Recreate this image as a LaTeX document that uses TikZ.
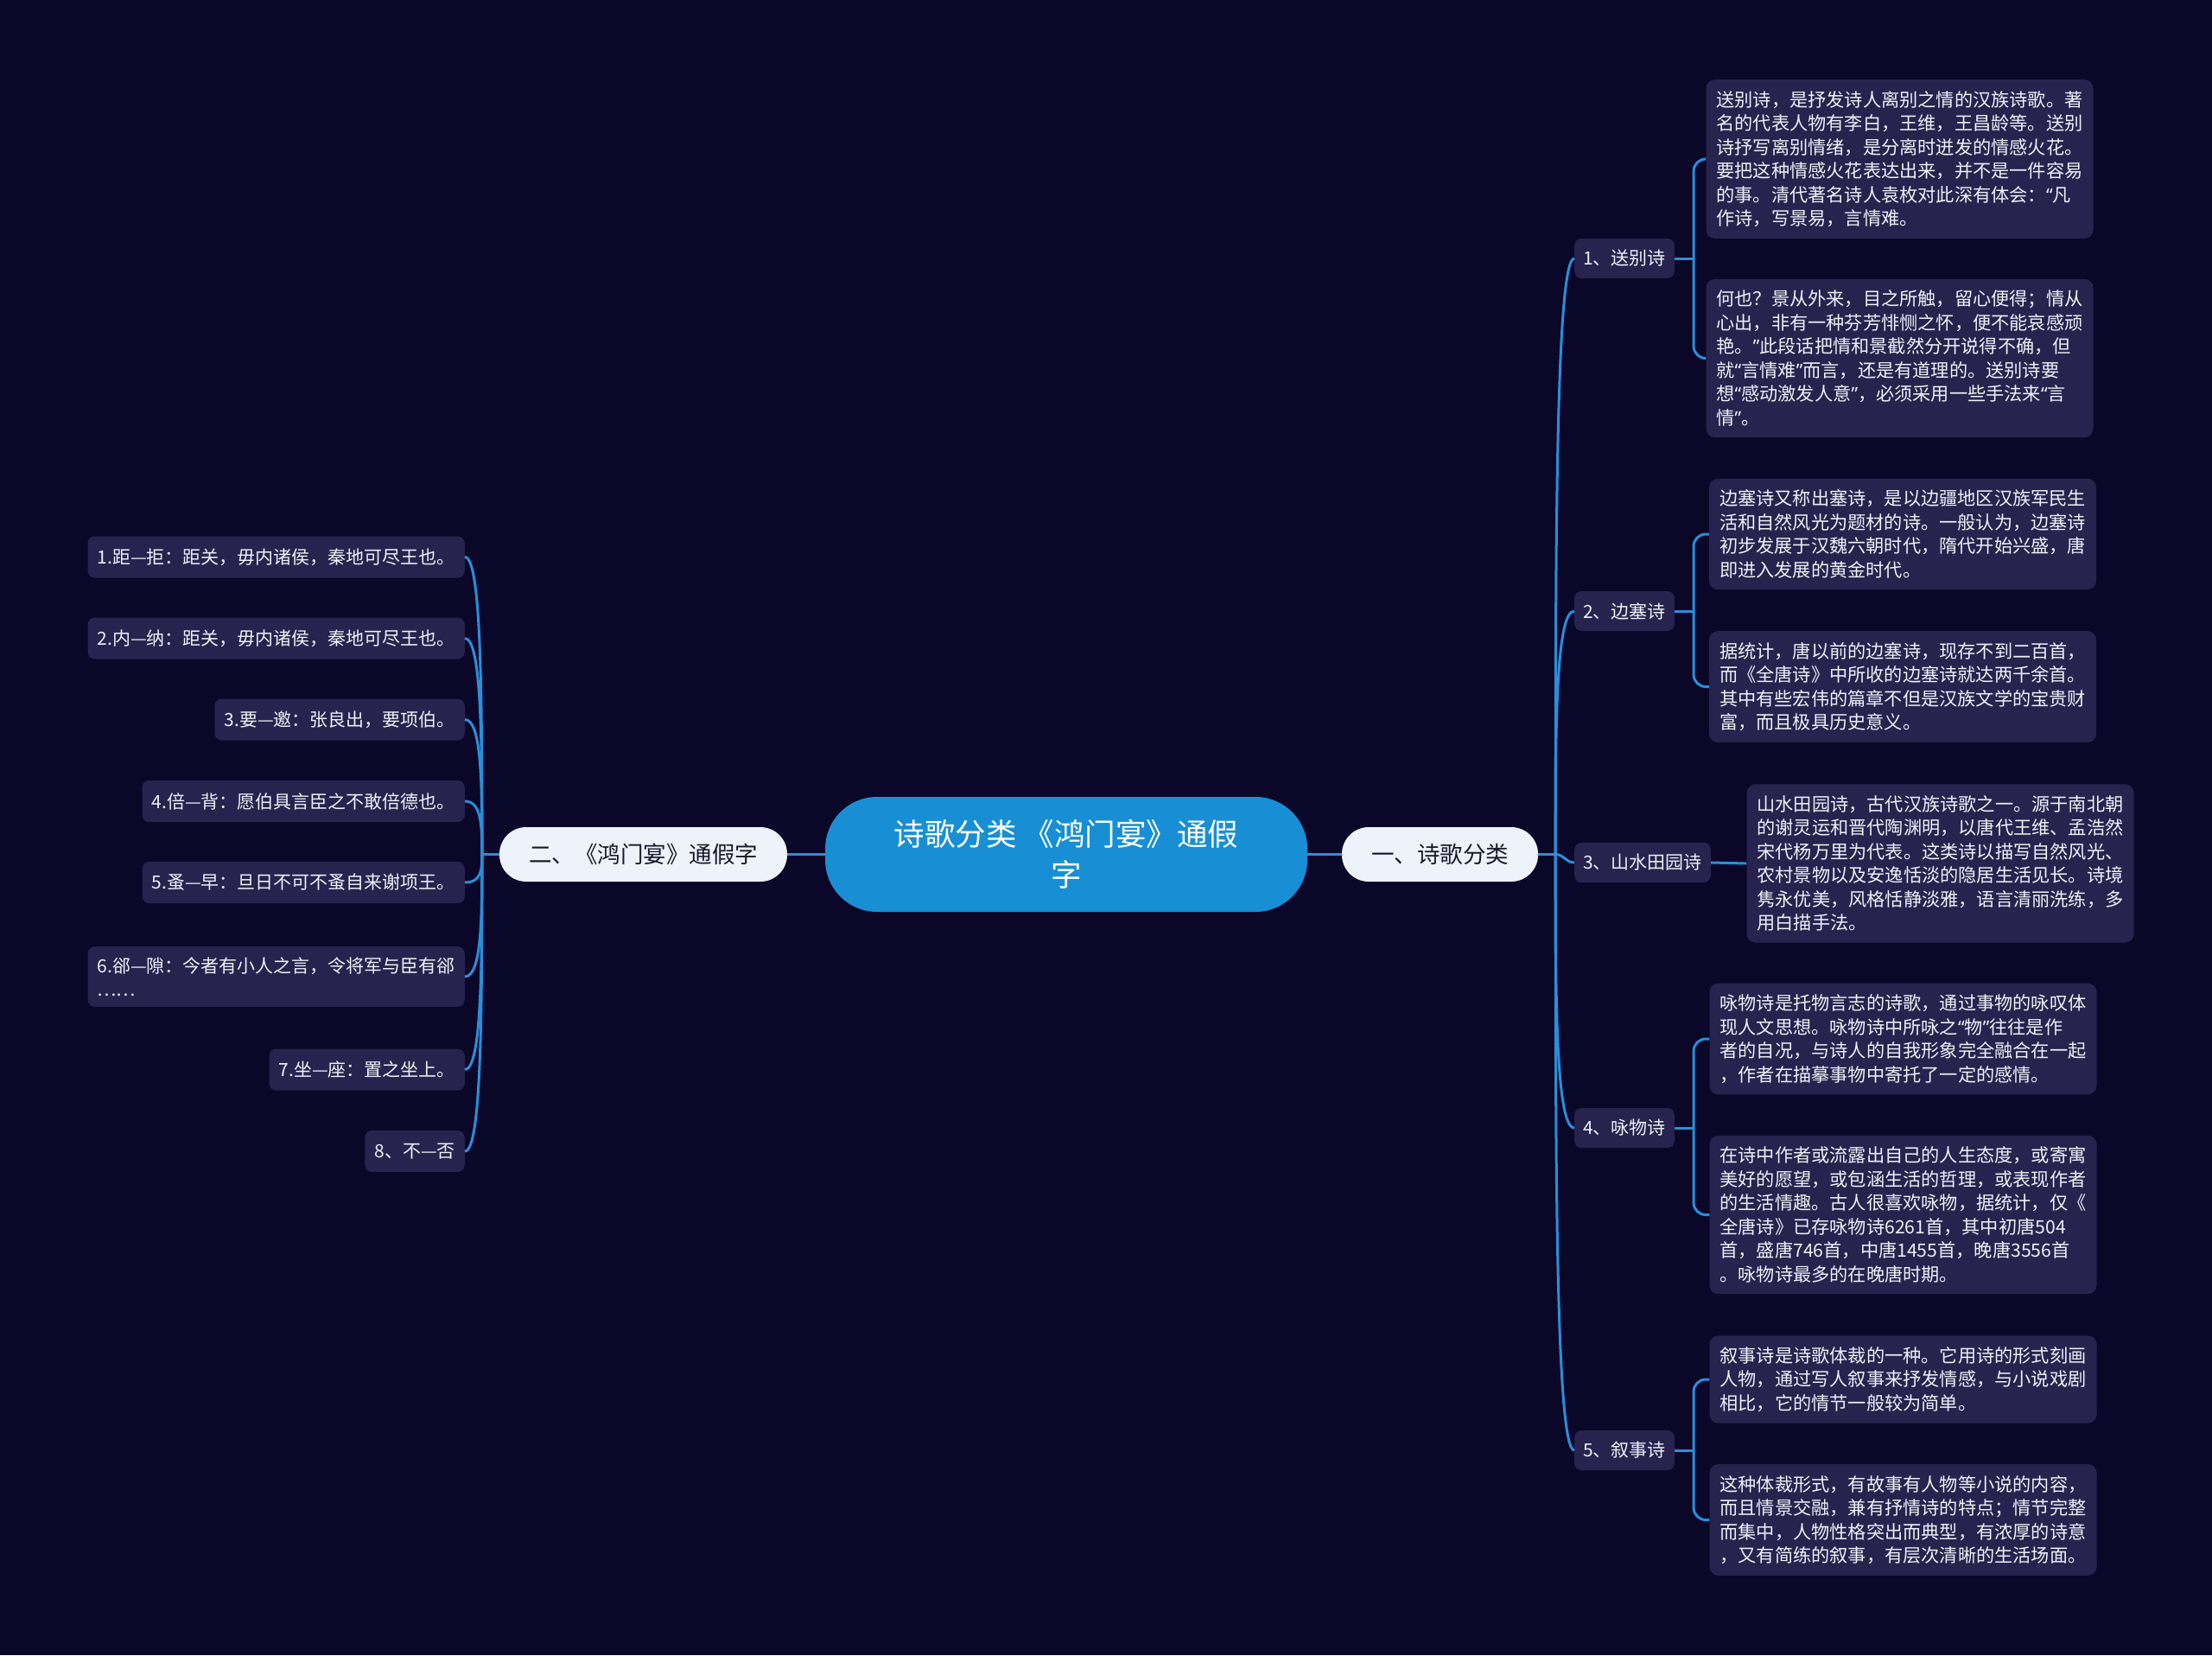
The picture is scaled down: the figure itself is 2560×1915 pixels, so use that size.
\documentclass[tikz,border=0pt]{standalone}
\usepackage{fontspec}
\setmainfont{Noto Sans CJK SC}
\newfontfamily\latinq{Noto Sans}
\newcommand\myql{{\latinq “}}
\newcommand\myqr{{\latinq ”}}
\usetikzlibrary{calc}
\definecolor{bgc}{RGB}{11,7,41}
\definecolor{boxc}{RGB}{39,35,78}
\definecolor{linec}{RGB}{40,143,218}
\definecolor{rootc}{RGB}{24,143,212}
\definecolor{lonec}{RGB}{238,243,251}
\definecolor{darktxt}{RGB}{25,25,45}
\definecolor{txtc}{RGB}{240,240,248}
\tikzset{
  rootnode/.style={fill=rootc, text=white, rounded corners=60pt, minimum width=558pt, minimum height=133pt, align=center, font=\fontsize{35.5}{47}\selectfont, inner sep=0pt},
  lonenode/.style={fill=lonec, text=darktxt, rounded corners=31pt, minimum height=63pt, font=\fontsize{26.5}{32}\selectfont, inner sep=0pt},
  ltwonode/.style={fill=boxc, text=txtc, rounded corners=8pt, minimum height=46pt, inner xsep=10pt, inner ysep=0pt, font=\fontsize{21}{27.5}\selectfont},
  lchild/.style={fill=boxc, text=txtc, rounded corners=8pt, minimum height=48pt, inner xsep=11pt, inner ysep=0pt, font=\fontsize{21}{27.5}\selectfont, anchor=east},
  leafnode/.style={fill=boxc, text=txtc, rounded corners=10pt, align=left, minimum width=446pt, inner xsep=12pt, inner ysep=13pt, font=\fontsize{21.2}{27.5}\selectfont},
  conn/.style={draw=linec, line width=3pt}
}
\begin{document}
\begin{tikzpicture}[x=1pt,y=-1pt]
\fill[bgc] (0,0) rectangle (2560,1915);
\useasboundingbox (0,0) rectangle (2560,1915);

% root and level 1
\node[rootnode] (root) at (1234,988.5) {诗歌分类 《鸿门宴》通假\\字};
\node[lonenode, minimum width=333pt] (L) at (744.5,988.5) {二、《鸿门宴》通假字};
\node[lonenode, minimum width=227pt] (R) at (1666.5,988.5) {一、诗歌分类};

% right level 2
\node[ltwonode, anchor=west] (s1) at (1822,299) {1、送别诗};
\node[ltwonode, anchor=west] (s2) at (1822,707) {2、边塞诗};
\node[ltwonode, anchor=west] (s3) at (1822,998) {3、山水田园诗};
\node[ltwonode, anchor=west] (s4) at (1822,1305) {4、咏物诗};
\node[ltwonode, anchor=west] (s5) at (1822,1678) {5、叙事诗};

% right leaves
\node[leafnode] (A) at (2198.5,184) {送别诗，是抒发诗人离别之情的汉族诗歌。著\\名的代表人物有李白，王维，王昌龄等。送别\\诗抒写离别情绪，是分离时迸发的情感火花。\\要把这种情感火花表达出来，并不是一件容易\\的事。清代著名诗人袁枚对此深有体会：\myql 凡\\作诗，写景易，言情难。};
\node[leafnode] (B) at (2198.5,414.5) {何也？景从外来，目之所触，留心便得；情从\\心出，非有一种芬芳悱恻之怀，便不能哀感顽\\艳。\myqr 此段话把情和景截然分开说得不确，但\\就\myql 言情难\myqr 而言，还是有道理的。送别诗要\\想\myql 感动激发人意\myqr ，必须采用一些手法来\myql 言\\情\myqr 。};
\node[leafnode] (C) at (2202,618) {边塞诗又称出塞诗，是以边疆地区汉族军民生\\活和自然风光为题材的诗。一般认为，边塞诗\\初步发展于汉魏六朝时代，隋代开始兴盛，唐\\即进入发展的黄金时代。};
\node[leafnode] (D) at (2202,794.5) {据统计，唐以前的边塞诗，现存不到二百首，\\而《全唐诗》中所收的边塞诗就达两千余首。\\其中有些宏伟的篇章不但是汉族文学的宝贵财\\富，而且极具历史意义。};
\node[leafnode] (E) at (2245.5,999) {山水田园诗，古代汉族诗歌之一。源于南北朝\\的谢灵运和晋代陶渊明，以唐代王维、孟浩然\\宋代杨万里为代表。这类诗以描写自然风光、\\农村景物以及安逸恬淡的隐居生活见长。诗境\\隽永优美，风格恬静淡雅，语言清丽洗练，多\\用白描手法。};
\node[leafnode] (F) at (2202.5,1202) {咏物诗是托物言志的诗歌，通过事物的咏叹体\\现人文思想。咏物诗中所咏之\myql 物\myqr 往往是作\\者的自况，与诗人的自我形象完全融合在一起\\，作者在描摹事物中寄托了一定的感情。};
\node[leafnode] (G) at (2202.5,1405.5) {在诗中作者或流露出自己的人生态度，或寄寓\\美好的愿望，或包涵生活的哲理，或表现作者\\的生活情趣。古人很喜欢咏物，据统计，仅《\\全唐诗》已存咏物诗6261首，其中初唐504\\首，盛唐746首，中唐1455首，晚唐3556首\\。咏物诗最多的在晚唐时期。};
\node[leafnode] (H) at (2202.5,1596) {叙事诗是诗歌体裁的一种。它用诗的形式刻画\\人物，通过写人叙事来抒发情感，与小说戏剧\\相比，它的情节一般较为简单。};
\node[leafnode] (I) at (2202.5,1758.5) {这种体裁形式，有故事有人物等小说的内容，\\而且情景交融，兼有抒情诗的特点；情节完整\\而集中，人物性格突出而典型，有浓厚的诗意\\，又有简练的叙事，有层次清晰的生活场面。};

% left children
\node[lchild] (c1) at (538,644.5) {1.距—拒：距关，毋内诸侯，秦地可尽王也。};
\node[lchild] (c2) at (538,738.5) {2.内—纳：距关，毋内诸侯，秦地可尽王也。};
\node[lchild] (c3) at (538,832.5) {3.要—邀：张良出，要项伯。};
\node[lchild] (c4) at (538,927) {4.倍—背：愿伯具言臣之不敢倍德也。};
\node[lchild] (c5) at (538,1021) {5.蚤—早：旦日不可不蚤自来谢项王。};
\node[lchild, align=left, inner ysep=12pt] (c6) at (538,1130) {6.郤—隙：今者有小人之言，令将军与臣有郤\\……};
\node[lchild] (c7) at (538,1237.5) {7.坐—座：置之坐上。};
\node[lchild] (c8) at (538,1332) {8、不—否};

% connectors root
\draw[conn] (root.east) -- (R.west);
\draw[conn] (root.west) -- (L.east);

% right trunk
\coordinate (rj) at ($(R.east)+(20,0)$);
\draw[conn] (R.east) -- (rj);
\foreach \i in {1,2,4,5}
  \draw[conn] (rj) .. controls ($(rj)!0.5!(rj |- s\i.west)$) and (rj |- s\i.west) .. (s\i.west);
\draw[conn] (rj) .. controls ($(rj)+(10,0)$) and ($(s3.west)+(-10,0)$) .. (s3.west);

% left trunk
\coordinate (lj) at ($(L.west)+(-20,0)$);
\draw[conn] (L.west) -- (lj);
\foreach \i in {1,...,8}
  \draw[conn] (lj) .. controls ($(lj)!0.5!(lj |- c\i.east)$) and (lj |- c\i.east) .. (c\i.east);

% brackets level 2 -> leaves
\coordinate (b1) at ($(s1.east)+(22,0)$);
\draw[conn] (s1.east) -- (b1);
\draw[conn, rounded corners=14pt] (b1) |- (A.west);
\draw[conn, rounded corners=14pt] (b1) |- (B.west);
\coordinate (b2) at ($(s2.east)+(22,0)$);
\draw[conn] (s2.east) -- (b2);
\draw[conn, rounded corners=14pt] (b2) |- (C.west);
\draw[conn, rounded corners=14pt] (b2) |- (D.west);
\draw[conn] (s3.east) -- (E.west);
\coordinate (b4) at ($(s4.east)+(22,0)$);
\draw[conn] (s4.east) -- (b4);
\draw[conn, rounded corners=14pt] (b4) |- (F.west);
\draw[conn, rounded corners=14pt] (b4) |- (G.west);
\coordinate (b5) at ($(s5.east)+(22,0)$);
\draw[conn] (s5.east) -- (b5);
\draw[conn, rounded corners=14pt] (b5) |- (H.west);
\draw[conn, rounded corners=14pt] (b5) |- (I.west);
\end{tikzpicture}
\end{document}
